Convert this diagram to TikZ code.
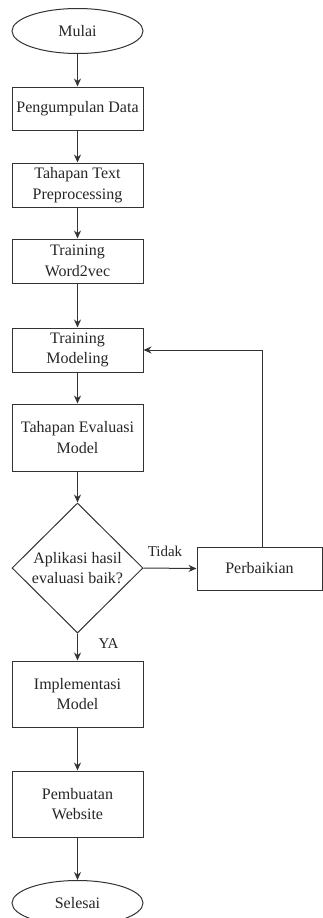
\documentclass[tikz,border=0pt]{standalone}
\usepackage{fontspec}
\setmainfont{Liberation Serif}
\usetikzlibrary{shapes.geometric,arrows.meta}
\begin{document}
\begin{tikzpicture}[x=1pt,y=-1pt,
  every node/.style={font=\fontsize{16}{20.5}\selectfont, text=black!85, align=center, inner sep=0pt},
  proc/.style={draw=black!80, line width=1pt, minimum width=131pt, rectangle},
  term/.style={draw=black!80, line width=1pt, ellipse, minimum width=131pt, minimum height=45pt},
  decide/.style={draw=black!80, line width=1pt, diamond, minimum width=131pt, minimum height=130pt, aspect=1},
  flow/.style={draw=black!80, line width=1pt, -{Stealth[length=8pt,width=7pt]}},
  lbl/.style={font=\fontsize{15}{17}\selectfont}]
\useasboundingbox (0,0) rectangle (323,918);
\begin{scope}
\clip (0,0) rectangle (323,918);
\node[term] (mulai) at (77.5,31) {Mulai};
\node[proc, minimum height=43pt] (kumpul) at (77.5,108.5) {Pengumpulan Data};
\node[proc, minimum height=44pt] (prep) at (77.5,185) {Tahapan Text\\Preprocessing};
\node[proc, minimum height=44pt] (w2v) at (77.5,261) {Training\\Word2vec};
\node[proc, minimum height=44pt] (model) at (77.5,350) {Training\\Modeling};
\node[proc, minimum height=67pt] (eval) at (77.5,437.5) {Tahapan Evaluasi\\Model};
\node[decide] (cek) at (77.5,568) {Aplikasi hasil\\evaluasi baik?};
\node[proc, minimum width=125pt, minimum height=43pt] (perbaiki) at (259.5,568.5) {Perbaikian};
\node[proc, minimum height=66pt] (impl) at (77.5,694) {Implementasi\\Model};
\node[proc, minimum height=66pt] (web) at (77.5,804) {Pembuatan\\Website};
\node[term] (selesai) at (77.5,903) {Selesai};
\end{scope}

\coordinate (naik) at (262.5,350);
\draw[flow] (mulai) -- (kumpul);
\draw[flow] (kumpul) -- (prep);
\draw[flow] (prep) -- (w2v);
\draw[flow] (w2v) -- (model);
\draw[flow] (model) -- (eval);
\draw[flow] (eval) -- (cek);
\draw[flow] (cek.east) -- (perbaiki.west);
\draw[flow] (perbaiki.north -| naik) -- (naik) -- (model.east);
\draw[flow] (cek.south) -- (impl.north);
\draw[flow] (impl) -- (web);
\draw[flow] (web) -- (selesai);

\node[lbl] (tidak) at (165,551) {Tidak};
\node[lbl] (ya) at (108.5,644) {YA};
\end{tikzpicture}
\end{document}
